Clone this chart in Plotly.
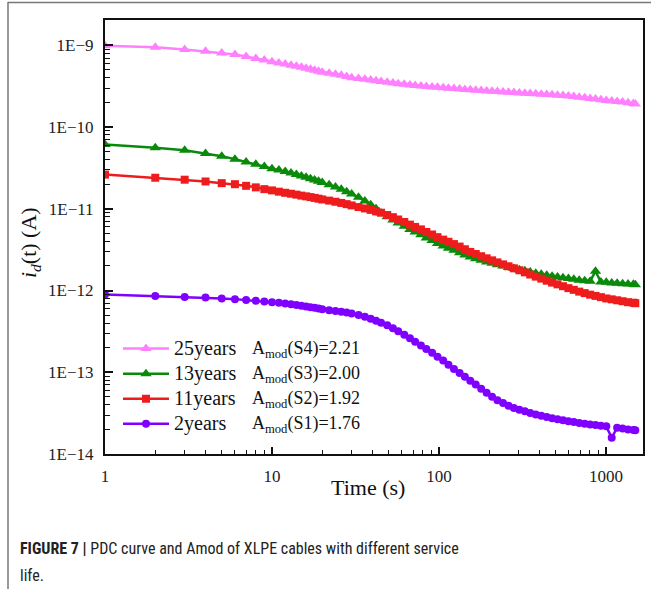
import plotly.graph_objects as go

# ---------------- data ----------------
time_s = [1, 2, 3, 4, 5, 6, 7, 8, 9, 10, 11, 12, 13, 14, 15, 16, 17, 18, 19, 20,
          22, 24, 26, 28, 30, 33, 36, 39, 42, 45,
          49, 53, 57, 62, 67, 72, 78, 84, 91, 98,
          106, 114, 123, 133, 143, 154, 166, 179, 193, 208,
          224, 242, 261, 281, 303, 327, 352, 380, 410, 442,
          476, 513, 553, 596, 642, 692, 746, 804, 866, 933,
          1005, 1083, 1167, 1258, 1356, 1461, 1500]

# 25 years (x 1e-10 A)
y25_e10 = [9.9, 9.5, 8.9, 8.45, 8.05, 7.7, 7.3, 6.9, 6.6, 6.3, 6.1, 5.9, 5.7, 5.55, 5.4, 5.25, 5.1, 4.95, 4.82, 4.7,
           4.55, 4.42, 4.3, 4.15, 4.02, 3.92, 3.84, 3.76, 3.68, 3.61,
           3.53, 3.46, 3.40, 3.34, 3.28, 3.23, 3.18, 3.14, 3.10, 3.06,
           3.02, 2.99, 2.96, 2.92, 2.89, 2.86, 2.83, 2.80, 2.77, 2.74,
           2.72, 2.69, 2.67, 2.64, 2.62, 2.60, 2.57, 2.55, 2.52, 2.50,
           2.48, 2.45, 2.43, 2.40, 2.36, 2.32, 2.28, 2.24, 2.20, 2.16,
           2.12, 2.09, 2.05, 2.02, 1.98, 1.94, 1.92]

# 13 years (x 1e-11 A)
y13_e11 = [6.1, 5.6, 5.2, 4.75, 4.4, 4.05, 3.75, 3.5, 3.3, 3.1, 2.98, 2.86, 2.74, 2.63, 2.52, 2.43, 2.34, 2.25, 2.17, 2.10,
           1.97, 1.85, 1.73, 1.62, 1.52, 1.38, 1.25, 1.12, 1.00, 0.89,
           0.80, 0.73, 0.67, 0.61, 0.56, 0.52, 0.48, 0.44, 0.41, 0.375,
           0.35, 0.33, 0.31, 0.29, 0.272, 0.257, 0.245, 0.234, 0.224, 0.215,
           0.207, 0.199, 0.192, 0.186, 0.180, 0.174, 0.168, 0.163, 0.158, 0.154,
           0.150, 0.146, 0.143, 0.140, 0.137, 0.134, 0.132, 0.130, 0.172, 0.127,
           0.126, 0.124, 0.123, 0.121, 0.120, 0.119, 0.118]

# 11 years (x 1e-11 A)
y11_e11 = [2.62, 2.40, 2.27, 2.16, 2.06, 2.00, 1.91, 1.83, 1.74, 1.68, 1.62, 1.57, 1.53, 1.49, 1.45, 1.42, 1.39, 1.36, 1.33, 1.30,
           1.26, 1.22, 1.18, 1.14, 1.10, 1.05, 1.01, 0.97, 0.93, 0.895,
           0.84, 0.79, 0.74, 0.69, 0.64, 0.60, 0.56, 0.52, 0.485, 0.45,
           0.42, 0.395, 0.37, 0.345, 0.32, 0.297, 0.28, 0.263, 0.248, 0.234,
           0.221, 0.209, 0.198, 0.187, 0.177, 0.167, 0.157, 0.148, 0.140, 0.132,
           0.125, 0.119, 0.113, 0.107, 0.102, 0.097, 0.093, 0.089, 0.086, 0.083,
           0.080, 0.078, 0.076, 0.074, 0.072, 0.071, 0.070]

# 2 years (x 1e-13 A)
y2_e13 = [8.95, 8.6, 8.35, 8.2, 8.0, 7.85, 7.65, 7.5, 7.35, 7.2, 7.07, 6.95, 6.8, 6.65, 6.5, 6.38, 6.26, 6.14, 6.02, 5.9,
          5.75, 5.62, 5.5, 5.37, 5.25, 5.02, 4.78, 4.53, 4.28, 4.04,
          3.75, 3.45, 3.18, 2.88, 2.6, 2.37, 2.13, 1.92, 1.73, 1.55,
          1.39, 1.24, 1.1, 0.98, 0.88, 0.79, 0.71, 0.63, 0.56, 0.5,
          0.455, 0.42, 0.39, 0.365, 0.348, 0.333, 0.318, 0.305, 0.293, 0.283,
          0.274, 0.266, 0.259, 0.252, 0.246, 0.24, 0.235, 0.23, 0.226, 0.222,
          0.218, 0.158, 0.21, 0.205, 0.2, 0.197, 0.195]

series_names = ["25years", "13years", "11years", "2years"]
amod_labels = ["A<sub>mod</sub>(S4)=2.21", "A<sub>mod</sub>(S3)=2.00",
               "A<sub>mod</sub>(S2)=1.92", "A<sub>mod</sub>(S1)=1.76"]
x_tick_vals = [1, 10, 100, 1000]
x_tick_text = ["1", "10", "100", "1000"]
y_tick_vals = [1e-14, 1e-13, 1e-12, 1e-11, 1e-10, 1e-9]
y_tick_text = ["1E\u221214", "1E\u221213", "1E\u221212", "1E\u221211", "1E\u221210", "1E\u22129"]

# ---------------- figure ----------------
series_values = [
    [v * 1e-10 for v in y25_e10],
    [v * 1e-11 for v in y13_e11],
    [v * 1e-11 for v in y11_e11],
    [v * 1e-13 for v in y2_e13],
]
colors = ["#FF80FF", "#0A8A0A", "#EE1C1C", "#8000FF"]
symbols = ["triangle-up", "triangle-up", "square", "circle"]
msizes = [10, 10, 8, 8]

fig = go.Figure()
for name, vals, c, s, ms in zip(series_names, series_values, colors, symbols, msizes):
    fig.add_trace(go.Scatter(
        x=time_s, y=vals, name='<span style="font-size:20px">' + name + '</span>',
        mode="lines+markers",
        line=dict(color=c, width=2.5),
        marker=dict(color=c, symbol=s, size=ms, line=dict(width=0)),
    ))

serif = "Liberation Serif, Times New Roman, serif"
narrow = "Roboto Condensed, Liberation Sans Narrow, Arial Narrow, Liberation Sans"

x_minor = [m * 10 ** k for k in range(0, 4) for m in range(2, 10)]
y_minor = [m * 10.0 ** k for k in range(-14, -8) for m in range(2, 10)]

L, R, T, B = 105, 8, 20, 135
W, H = 651, 589
pw, ph = W - L - R, H - T - B


def px_x(x):
    return (x - L) / pw


def px_y(y):
    return (H - B - y) / ph


fig.update_xaxes(
    type="log", range=[0, 3.222],
    tickmode="array", tickvals=x_tick_vals, ticktext=x_tick_text,
    ticks="inside", ticklen=7, tickwidth=1.5, tickcolor="#111",
    minor=dict(tickmode="array", tickvals=x_minor, ticks="inside", ticklen=4,
               tickwidth=1.2, tickcolor="#111", showgrid=False),
    showline=True, linecolor="#111", linewidth=2, mirror=True,
    showgrid=False, zeroline=False,
    tickfont=dict(family=serif, size=17, color="#222"),
    ticklabelstandoff=6,
)
fig.update_yaxes(
    type="log", range=[-14, -8.69],
    tickmode="array", tickvals=y_tick_vals, ticktext=y_tick_text,
    ticks="inside", ticklen=8, tickwidth=1.5, tickcolor="#111",
    minor=dict(tickmode="array", tickvals=y_minor, ticks="inside", ticklen=5,
               tickwidth=1.2, tickcolor="#111", showgrid=False),
    showline=True, linecolor="#111", linewidth=2, mirror=True,
    showgrid=False, zeroline=False,
    tickfont=dict(family=serif, size=17, color="#222"),
    ticklabelstandoff=6,
)

annotations = [
    dict(text="Time (s)", x=px_x(368), y=px_y(487), xref="paper", yref="paper",
         showarrow=False, xanchor="center", yanchor="middle",
         font=dict(family=serif, size=22, color="#111")),
    dict(text="<i>i</i><sub><i>d</i></sub>(t) (A)", x=px_x(30), y=px_y(243),
         xref="paper", yref="paper", showarrow=False, textangle=-90,
         xanchor="center", yanchor="middle",
         font=dict(family=serif, size=22, color="#111")),
    dict(text="<b>FIGURE 7 |</b> PDC curve and Amod of XLPE cables with different service",
         x=px_x(18), y=px_y(548), xref="paper", yref="paper", showarrow=False,
         xanchor="left", yanchor="middle",
         font=dict(family=narrow, size=16, color="#222")),
    dict(text="life.", x=px_x(18), y=px_y(575), xref="paper", yref="paper", showarrow=False,
         xanchor="left", yanchor="middle",
         font=dict(family=narrow, size=16, color="#222")),
]
for lab, yy in zip(amod_labels, [349, 374, 399, 424]):
    annotations.append(dict(text=lab, x=px_x(250), y=px_y(yy), xref="paper", yref="paper",
                            showarrow=False, xanchor="left", yanchor="middle",
                            font=dict(family=serif, size=18, color="#111")))

shapes = [
    dict(type="line", xref="paper", yref="paper", x0=px_x(8), x1=px_x(8), y0=px_y(2), y1=px_y(589),
         line=dict(color="#777", width=1.5)),
    dict(type="line", xref="paper", yref="paper", x0=px_x(8), x1=px_x(651), y0=px_y(2.5), y1=px_y(2.5),
         line=dict(color="#777", width=1.5)),
]

fig.update_layout(
    width=W, height=H,
    margin=dict(l=L, r=R, t=T, b=B, autoexpand=False),
    paper_bgcolor="white", plot_bgcolor="white",
    showlegend=True,
    legend=dict(x=px_x(118), y=px_y(331), xanchor="left", yanchor="top",
                bgcolor="rgba(0,0,0,0)", borderwidth=0,
                font=dict(family=serif, size=17, color="#111"),
                tracegroupgap=0, itemwidth=46),
    annotations=annotations,
    shapes=shapes,
)

fig.write_html("out.html")
